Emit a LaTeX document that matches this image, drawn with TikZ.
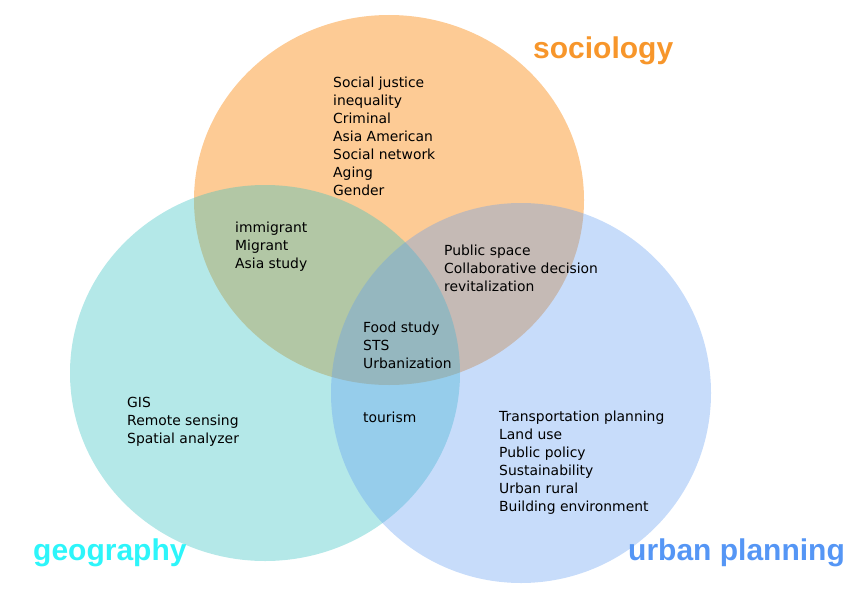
\documentclass[tikz,border=0pt]{standalone}
\usepackage{fontspec}
\setmainfont{DejaVu Sans}
\newfontfamily\fieldfont{Liberation Sans}

\begin{document}
\begin{tikzpicture}[x=1pt,y=-1pt,
  topic/.style={anchor=base west,align=left,inner sep=0pt,
    font=\fontsize{13.9}{18}\selectfont},
  field/.style={anchor=base west,inner sep=0pt,
    font=\fieldfont\bfseries\fontsize{30}{36}\selectfont}]
\definecolor{socfill}{RGB}{253,203,149}
\definecolor{geofill}{RGB}{52,193,193}
\definecolor{urbfill}{RGB}{95,155,241}
\definecolor{soctext}{RGB}{247,150,43}
\definecolor{geotext}{RGB}{45,245,250}
\definecolor{urbtext}{RGB}{85,150,245}

\useasboundingbox (0,0) rectangle (858,594);

% The three fields; later ones are see-through.
\fill[socfill] (389,200) ellipse (195pt and 185pt);
\fill[geofill,fill opacity=0.37] (265,373) ellipse (195pt and 188pt);
\fill[urbfill,fill opacity=0.35] (521,393) circle (190pt);

% Topics of one field only (anchored at the last line).
\node[topic] (social) at (333,195)
  {Social justice\\inequality\\Criminal\\Asia American\\Social network\\Aging\\Gender};
\node[topic] (gis) at (127,443)
  {GIS\\Remote sensing\\Spatial analyzer};
\node[topic] (transport) at (499,511)
  {Transportation planning\\Land use\\Public policy\\Sustainability\\Urban rural\\Building environment};

% Topics shared by two or three fields.
\node[topic] (immigrant) at (235,268) {immigrant\\Migrant\\Asia study};
\node[topic] (publicspace) at (444,291)
  {Public space\\Collaborative decision\\revitalization};
\node[topic] (food) at (363,368) {Food study\\STS\\Urbanization};
\node[topic] (tourism) at (363,422) {tourism};

% Field names.
\node[field,soctext] (sociology) at (533,59) {sociology};
\node[field,geotext] (geography) at (33,560) {geography};
\node[field,urbtext] (urban) at (628,560) {urban planning};
\end{tikzpicture}
\end{document}
